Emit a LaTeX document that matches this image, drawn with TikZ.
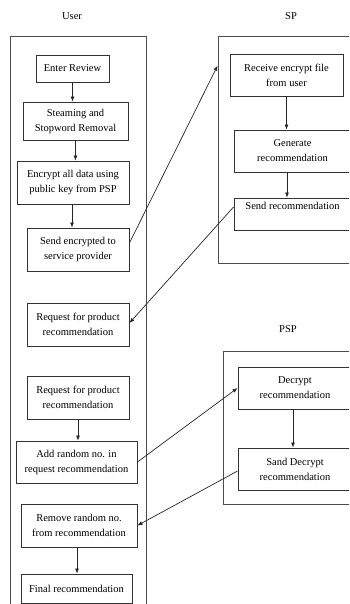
\documentclass[tikz,border=0pt]{standalone}
\usepackage{fontspec}
\setmainfont{Liberation Serif}
\usetikzlibrary{arrows.meta}
\begin{document}
\begin{tikzpicture}[x=1pt,y=-1pt,
  every node/.style={font=\fontsize{10.5}{15}\selectfont, text=black},
  box/.style={draw=black!80, line width=0.9pt, align=center, inner sep=0pt, minimum width=#1},
  frame/.style={draw=black!70, line width=0.8pt, inner sep=0pt},
  arr/.style={draw=black!85, line width=0.7pt, -{Latex[length=5pt,width=4pt]}}]
\useasboundingbox (0,0) rectangle (349,604);
\clip (0,0) rectangle (349,604);
% titles
\node (tuser) at (72,16) {User};
\node (tsp) at (291,16) {SP};
\node (tpsp) at (288,329) {PSP};
% frames
\draw[draw=black!70, line width=0.8pt] (10,610) -- (10,36) -- (146,36) -- (146,610);
\node[frame, minimum width=142pt, minimum height=227pt] (spbox) at (289,149.5) {};
\node[frame, minimum width=137pt, minimum height=153pt] (pspbox) at (291.5,427.5) {};
% user boxes
\node[box=73pt, minimum height=27pt] (enter) at (72.5,68.5) {Enter Review};
\node[box=105pt, minimum height=38pt] (steam) at (75.5,121) {Steaming and\\Stopword Removal};
\node[box=112pt, minimum height=43pt] (encrypt) at (73,182.5) {Encrypt all data using\\public key from PSP};
\node[box=102pt, minimum height=43pt] (sendenc) at (78,249.5) {Send encrypted to\\service provider};
\node[box=102pt, minimum height=43pt] (req1) at (78,324.5) {Request for product\\recommendation};
\node[box=102pt, minimum height=43pt] (req2) at (78,397.5) {Request for product\\recommendation};
\node[box=121pt, minimum height=42pt] (addr) at (76.5,462) {Add random no. in\\request recommendation};
\node[box=116pt, minimum height=43pt] (remr) at (79,525.5) {Remove random no.\\from recommendation};
\node[box=111pt, minimum height=29pt] (final) at (76.5,588.5) {Final recommendation};
% SP boxes
\node[box=113pt, minimum height=42pt] (recv) at (286.5,75) {Receive encrypt file\\from user};
\node[box=117pt, minimum height=42pt] (gen) at (292.5,151) {Generate\\recommendation};
\node[box=117pt, minimum height=32pt] (sendrec) at (292.5,214) {Send recommendation\\[2pt]};
% PSP boxes
\node[box=114pt, minimum height=42pt] (dec) at (295,388) {Decrypt\\recommendation};
\node[box=114pt, minimum height=42pt] (sdec) at (295,469) {Sand Decrypt\\recommendation};
% vertical arrows
\draw[arr] (enter.south) -- (enter.south |- steam.north);
\draw[arr] (steam.south) -- (steam.south |- encrypt.north);
\draw[arr] ([xshift=-1pt]encrypt.south) -- ([xshift=-1pt]encrypt.south |- sendenc.north);
\draw[arr] (req2.south) -- (req2.south |- addr.north);
\draw[arr] ([xshift=-2pt]remr.south) -- ([xshift=-2pt]remr.south |- final.north);
\draw[arr] (recv.south) -- (recv.south |- gen.north);
\draw[arr] ([xshift=-5.5pt]gen.south) -- ([xshift=-5.5pt]gen.south |- sendrec.north);
\draw[arr] ([xshift=-2pt]dec.south) -- ([xshift=-2pt]dec.south |- sdec.north);
% cross arrows
\draw[arr] ([yshift=6.5pt]sendenc.east) -- ([yshift=-30pt]spbox.north west);
\draw[arr] ([yshift=7pt]sendrec.west) -- ([yshift=1.5pt]req1.east);
\draw[arr] (addr.east) -- (dec.west);
\draw[arr] ([yshift=-2pt]sdec.west) -- (remr.east);
\end{tikzpicture}
\end{document}
